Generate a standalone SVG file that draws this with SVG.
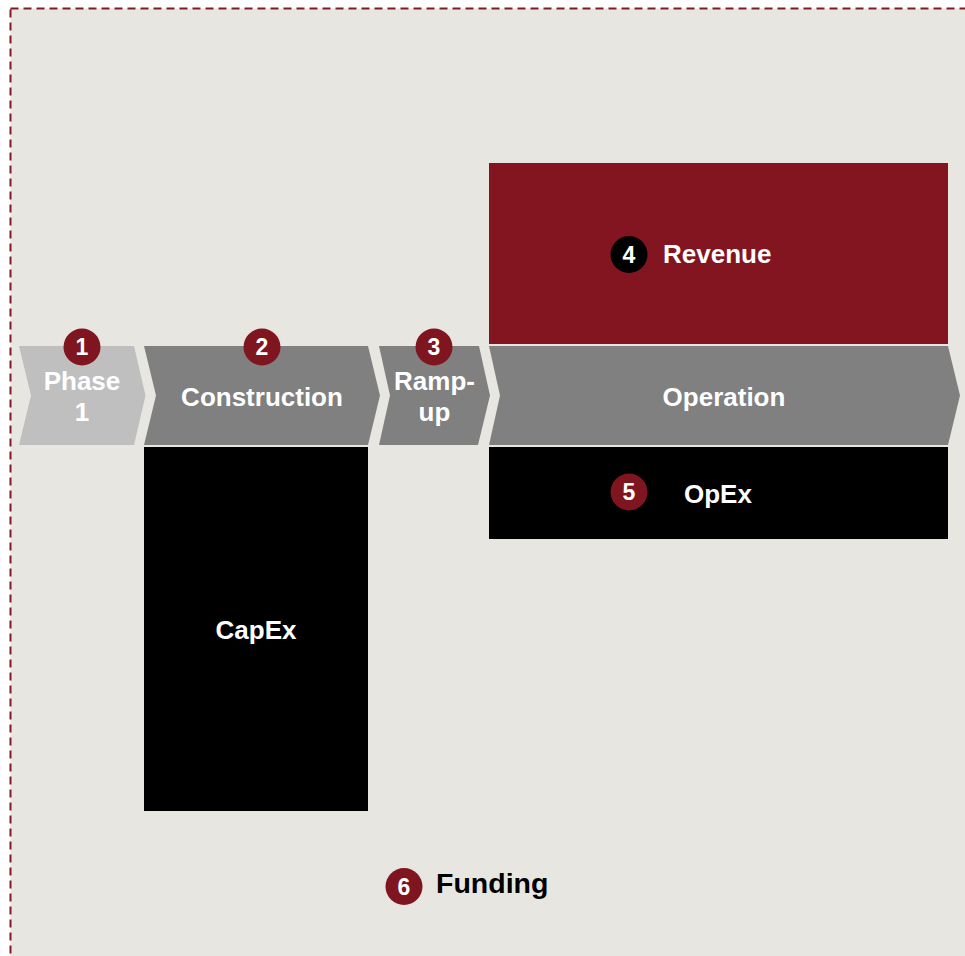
<svg xmlns="http://www.w3.org/2000/svg" width="965" height="956" viewBox="0 0 965 956">
<style>
.t{font-family:"Liberation Sans",Arial,sans-serif;font-weight:bold;font-size:26px;fill:#ffffff;text-anchor:middle}
.n{font-family:"Liberation Sans",Arial,sans-serif;font-weight:bold;font-size:23px;fill:#ffffff;text-anchor:middle}
.c{fill:#7F151F}
</style>
<rect x="0" y="0" width="965" height="956" fill="#ffffff"/>
<rect x="10.5" y="8.5" width="1000" height="1000" fill="#E8E6E1" stroke="#821A25" stroke-width="2" stroke-dasharray="8 5"/>
<g id="revenue">
<rect x="489" y="163" width="459" height="181" fill="#821520"/>
<circle cx="629" cy="254.5" r="18.5" fill="#000000"/>
<text class="n" x="629" y="262.8">4</text>
<text class="t" x="663" y="263" style="text-anchor:start">Revenue</text>
</g>
<g id="phase1">
<polygon points="19,346 134,346 145.5,395.5 134,445 19,445 31,395.5" fill="#BFBFBF"/>
<text class="t" x="82" y="390">Phase</text>
<text class="t" x="82" y="421">1</text>
<circle class="c" cx="82" cy="347" r="18.5"/>
<text class="n" x="82" y="355.3">1</text>
</g>
<g id="construction">
<polygon points="144,346 368,346 380,395.5 368,445 144,445 156,395.5" fill="#808080"/>
<text class="t" x="262" y="406">Construction</text>
<circle class="c" cx="262" cy="347" r="18.5"/>
<text class="n" x="262" y="355.3">2</text>
</g>
<g id="rampup">
<polygon points="379,346 479,346 490,395.5 478,445 379,445 390,395.5" fill="#808080"/>
<text class="t" x="434.5" y="390">Ramp-</text>
<text class="t" x="434.5" y="421">up</text>
<circle class="c" cx="434" cy="347" r="18.5"/>
<text class="n" x="434" y="355.3">3</text>
</g>
<g id="operation">
<polygon points="489,346 948,346 960,395.5 948,445 489,445 500,395.5" fill="#808080"/>
<text class="t" x="724" y="406">Operation</text>
</g>
<g id="capex">
<rect x="144" y="447" width="224" height="364" fill="#000000"/>
<text class="t" x="256" y="639">CapEx</text>
</g>
<g id="opex">
<rect x="489" y="447" width="459" height="92" fill="#000000"/>
<circle class="c" cx="629" cy="492" r="18.5"/>
<text class="n" x="629" y="500.3">5</text>
<text class="t" x="684" y="503" style="text-anchor:start">OpEx</text>
</g>
<g id="funding">
<circle class="c" cx="404" cy="886.5" r="18.5"/>
<text class="n" x="404" y="894.8">6</text>
<text class="t" x="436" y="893" style="text-anchor:start;fill:#000000;font-size:28.5px">Funding</text>
</g>
<g id="connectors"></g>
</svg>
